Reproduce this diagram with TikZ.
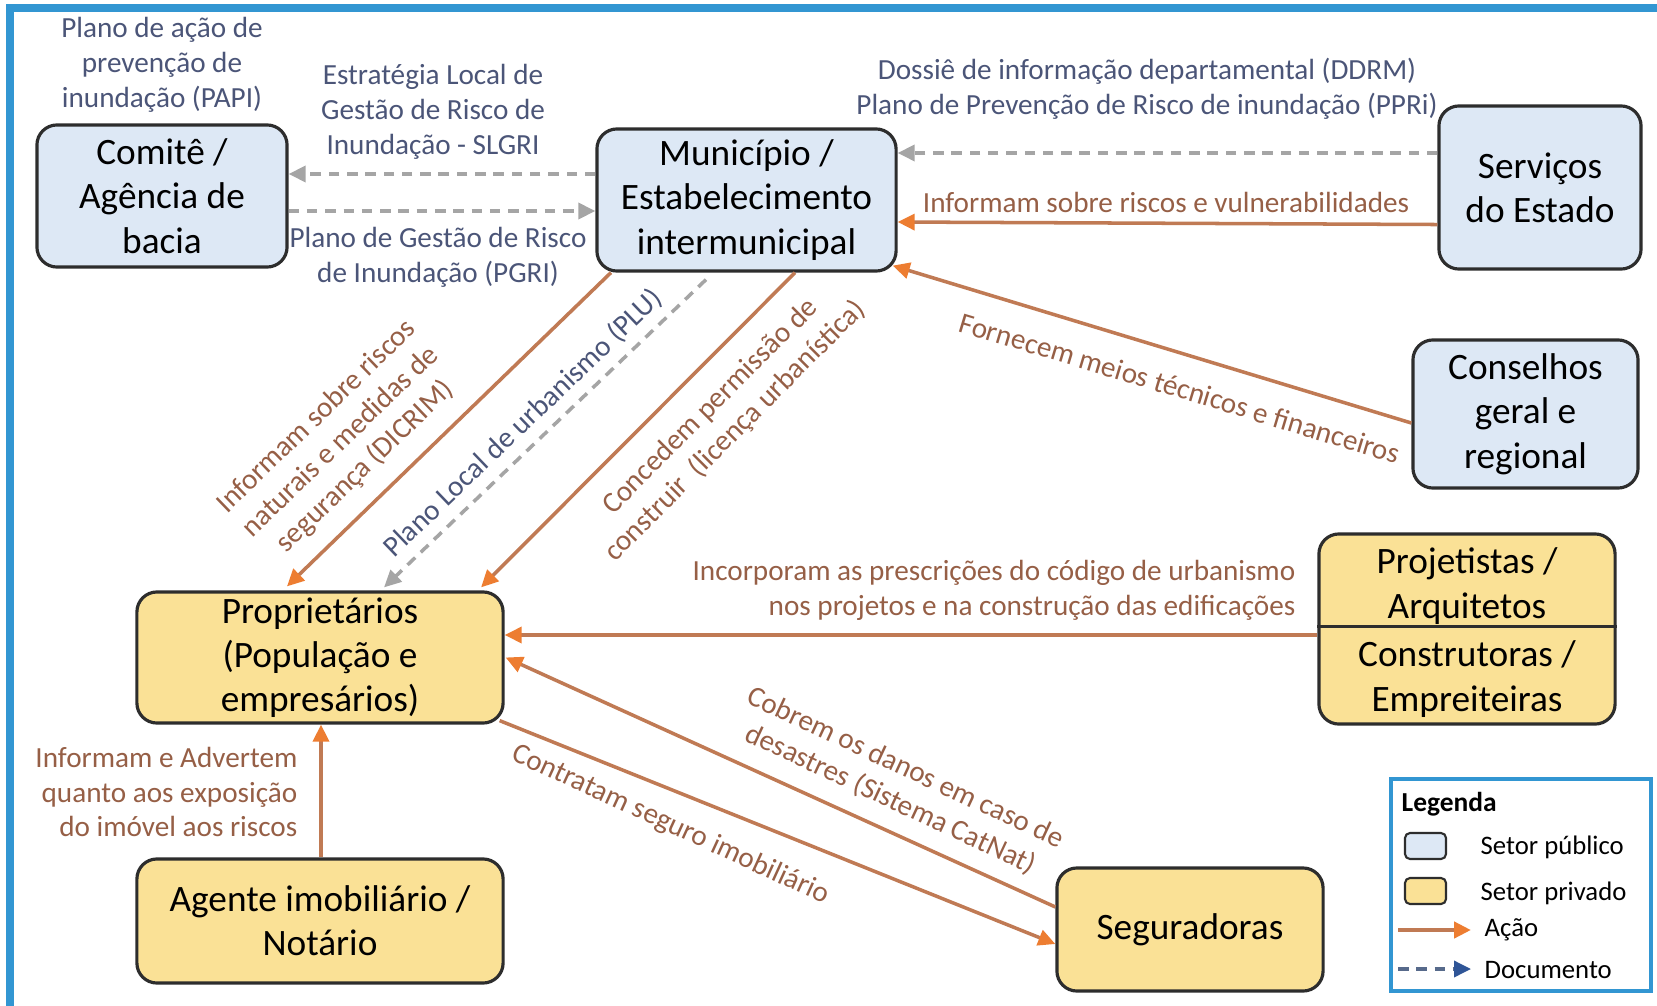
\documentclass[tikz,border=0pt]{standalone}
\usepackage{fontspec}
\setmainfont{Carlito}
\usetikzlibrary{arrows.meta,calc}
\definecolor{framec}{RGB}{50,150,210}
\definecolor{pubfill}{RGB}{221,232,245}
\definecolor{privfill}{RGB}{250,225,150}
\definecolor{boxdraw}{RGB}{45,45,45}
\definecolor{actline}{RGB}{192,122,84}
\definecolor{acthead}{RGB}{237,125,49}
\definecolor{docline}{RGB}{165,165,165}
\definecolor{actlabel}{RGB}{150,95,70}
\definecolor{doclabel}{RGB}{75,85,120}
\definecolor{doclegend}{RGB}{47,85,151}
\begin{document}
\begin{tikzpicture}[x=0.01cm,y=-0.01cm,
  pub/.style={draw=boxdraw, line width=0.9pt, fill=pubfill, rounded corners=0.2cm, align=center, inner sep=0pt, font=\fontsize{10.6}{12.6}\selectfont},
  priv/.style={pub, fill=privfill},
  plain/.style={align=center, inner sep=0pt, font=\fontsize{10.6}{12.6}\selectfont},
  action/.style={draw=actline, line width=1pt, -{Triangle[length=0.17cm,width=0.16cm,color=acthead,fill=acthead]}},
  doc/.style={draw=docline, line width=1pt, dash pattern=on 3pt off 2.2pt, -{Triangle[length=0.17cm,width=0.16cm,color=docline,fill=docline]}},
  lab/.style={align=center, inner sep=0pt, font=\fontsize{8.3}{9.9}\selectfont},
  actlab/.style={lab, text=actlabel},
  doclab/.style={lab, text=doclabel},
  legtext/.style={anchor=west, inner sep=0pt, font=\fontsize{7.6}{9}\selectfont}
]
\useasboundingbox (0,0) rectangle (1657,1006);
\fill[white] (0,0) rectangle (1657,1006);
% frame
\draw[framec, line width=2pt] (10,1006) -- (10,8) -- (1657,8);

% nodes
\node[pub, minimum width=2.50cm, minimum height=1.42cm] (com) at (162,196) {Comitê /\\Agência de\\bacia};
\node[pub, minimum width=2.99cm, minimum height=1.42cm] (mun) at (746.5,200) {Município /\\Estabelecimento\\intermunicipal};
\node[pub, minimum width=2.02cm, minimum height=1.63cm] (ser) at (1540,187.5) {Serviços\\do Estado};
\node[pub, minimum width=2.25cm, minimum height=1.48cm] (con) at (1525.5,414) {Conselhos\\geral e\\regional};
\node[priv, minimum width=2.96cm, minimum height=1.90cm] (pc) at (1467,629) {};
\node[plain, minimum width=2.96cm, minimum height=0.80cm] (proj) at (1467,586) {Projetistas /\\Arquitetos};
\node[plain, minimum width=2.96cm, minimum height=0.98cm] (constr) at (1467,679) {Construtoras /\\Empreiteiras};
\draw[boxdraw, line width=0.9pt] (pc.west |- proj.south) -- (pc.east |- proj.south);
\node[priv, minimum width=3.66cm, minimum height=1.31cm] (prop) at (320,657.5) {Proprietários\\(População e\\empresários)};
\node[priv, minimum width=3.66cm, minimum height=1.24cm] (ag) at (320,921) {Agente imobiliário /\\Notário};
\node[priv, minimum width=2.66cm, minimum height=1.23cm] (seg) at (1190,929.5) {Seguradoras};

% connectors
\draw[doc] ([yshift=0.26cm]mun.west) -- ([yshift=0.26cm]mun.west -| com.east);
\draw[doc] ([yshift=-0.15cm]com.east) -- ([yshift=-0.15cm]com.east -| mun.west);
\draw[doc] ([yshift=0.345cm]ser.west) -- ([yshift=0.345cm]ser.west -| mun.east);
\draw[action] ([yshift=-0.37cm]ser.west) -- ([yshift=-0.22cm]mun.east);
\draw[action] ([yshift=-0.09cm]con.west) -- ([xshift=-0.05cm,yshift=0.07cm]mun.south east);
\draw[action] ([xshift=-1.355cm]mun.south) -- ([xshift=-0.33cm,yshift=0.04cm]prop.north);
\draw[doc] ([xshift=-0.405cm,yshift=-0.07cm]mun.south) -- ([xshift=0.64cm,yshift=0.03cm]prop.north);
\draw[action] ([xshift=0.485cm]mun.south) -- ([xshift=1.61cm,yshift=0.03cm]prop.north);
\draw[action] ([yshift=-0.06cm]pc.west) -- ([yshift=-0.06cm]pc.west -| prop.east);
\draw[action] ([yshift=0.225cm]seg.west) -- ([xshift=0.01cm]prop.east);
\draw[action] ([xshift=-0.05cm,yshift=0.04cm]prop.south east) -- ([yshift=-0.145cm]seg.west);
\draw[action] ([xshift=0.01cm]ag.north) -- ([xshift=0.01cm]prop.south);

% labels
\node[doclab] (lpapi) at (162,65) {Plano de ação de\\prevenção de\\inundação (PAPI)};
\node[doclab] (lslgri) at (433,112) {Estratégia Local de\\Gestão de Risco de\\Inundação - SLGRI};
\node[doclab] (lpgri) at (438,257) {Plano de Gestão de Risco\\de Inundação (PGRI)};
\node[doclab] (lddrm) at (1147,89) {Dossiê de informação departamental (DDRM)\\Plano de Prevenção de Risco de inundação (PPRi)};
\node[actlab] (lvuln) at (1166,202) {Informam sobre riscos e vulnerabilidades};
\node[actlab, rotate=-16.8] (lforn) at (1180,388) {Fornecem meios técnicos e financeiros};
\node[actlab, rotate=44] (ldicrim) at (341,442) {Informam sobre riscos\\naturais e medidas de\\segurança (DICRIM)};
\node[doclab, rotate=43.8] (lplu) at (523,423) {Plano Local de urbanismo (PLU)};
\node[actlab, rotate=45] (lconc) at (723,419) {Concedem permissão de\\construir~~(licença urbanística)};
\node[actlab, align=right, anchor=east] (linc) at (1296,590) {Incorporam as prescrições do código de urbanismo\\nos projetos e na construção das edificações};
\node[actlab, rotate=-25] (lcob) at (898,784) {Cobrem os danos em caso de\\desastres (Sistema CatNat)};
\node[actlab, rotate=-24.7] (lcontr) at (671,825) {Contratam seguro imobiliário};
\node[actlab, align=right, anchor=east] (ladv) at (298,792) {Informam e Advertem\\quanto aos exposição\\do imóvel aos riscos};

% legend
\draw[framec, line width=1.2pt] (1391,779) rectangle (1651,991);
\node[legtext, font=\fontsize{7.8}{9}\selectfont\bfseries] (legt) at (1401,804) {Legenda};
\node[pub, minimum width=0.41cm, minimum height=0.26cm, rounded corners=0.05cm, line width=0.6pt] (lpub) at (1425.5,846) {};
\node[legtext] (lpubt) at (1480,847) {Setor público};
\node[priv, minimum width=0.41cm, minimum height=0.26cm, rounded corners=0.05cm, line width=0.6pt] (lpriv) at (1425.5,891) {};
\node[legtext] (lprivt) at (1480,893) {Setor privado};
\coordinate (la1) at (1398,930);
\coordinate (la2) at (1471,930);
\draw[action, line width=1.3pt] (la1) -- (la2);
\node[legtext] (lact) at (1484,930) {Ação};
\coordinate (ld1) at (1398,969);
\coordinate (ld2) at (1471,969);
\draw[draw=doclegend!50!gray, line width=1pt, dash pattern=on 3pt off 2.2pt, -{Triangle[length=0.17cm,width=0.16cm,color=doclegend,fill=doclegend]}] (ld1) -- (ld2);
\node[legtext] (ldoc) at (1484,970) {Documento};
\end{tikzpicture}
\end{document}
